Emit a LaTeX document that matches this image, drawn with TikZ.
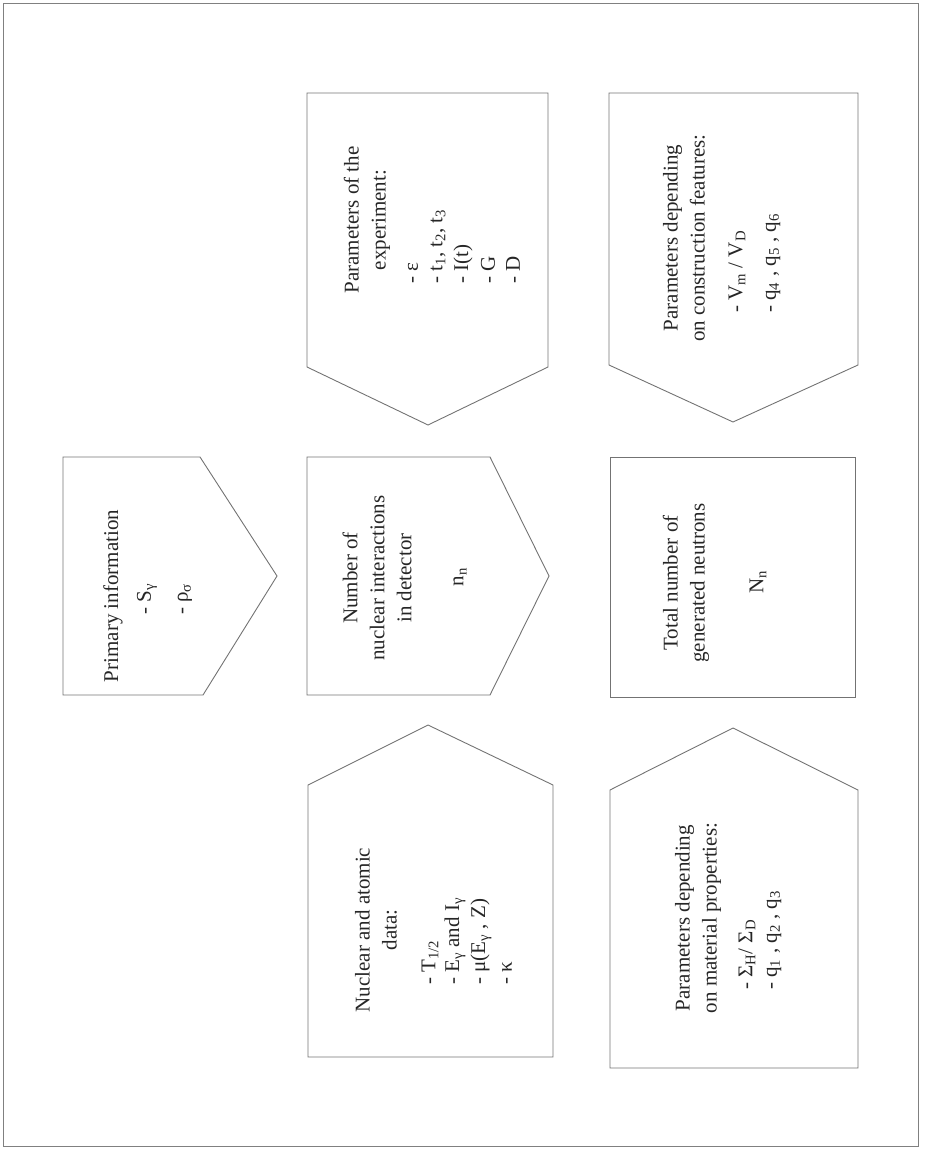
\documentclass[tikz,border=0pt]{standalone}
\usepackage{fontspec}
\setmainfont{Liberation Serif}
\newcommand{\sbs}[1]{\textsubscript{#1}}
\begin{document}
\begin{tikzpicture}[x=1pt,y=-1pt,
  boxline/.style={draw=black!55, line width=0.9pt, line join=miter},
  frameline/.style={draw=black!50, line width=0.8pt},
  txt/.style={rotate=90, font=\fontsize{21}{27}\selectfont, inner sep=0pt, align=center, text=black!85},
  itm/.style={txt, anchor=west, align=left}]
\useasboundingbox (0,0) rectangle (924,1150);
% outer frame
\draw[frameline] (3,3) rectangle (918,1146);
% shapes
\draw[boxline] (63,457) -- (200,457) -- (277,576) -- (203,695) -- (63,695) -- cycle;        % primary
\draw[boxline] (307,457) -- (490,457) -- (549,576) -- (490,695) -- (307,695) -- cycle;      % number
\draw[boxline] (610,457) rectangle (855,697);                                                % total
\draw[boxline] (307,93) -- (548,93) -- (548,367) -- (428,425) -- (307,367) -- cycle;        % experiment
\draw[boxline] (609,93) -- (858,93) -- (858,365) -- (733,422) -- (609,365) -- cycle;        % construction
\draw[boxline] (308,785) -- (428,725) -- (553,785) -- (553,1057) -- (308,1057) -- cycle;    % nuclear
\draw[boxline] (610,790) -- (733,728) -- (858,790) -- (858,1068) -- (610,1068) -- cycle;    % material
% primary
\node[txt] (primT) at (113,596) {Primary information};
\node[itm] (primA) at (147,615) {- S\sbs{γ}};
\node[itm] (primB) at (185,615) {- ρ\sbs{σ}};
% number
\node[txt] (numT) at (377,578) {Number of\\nuclear interactions\\in detector};
\node[txt] (numN) at (460,577) {n\sbs{n}};
% total
\node[txt] (totT) at (686,583) {Total number of\\generated neutrons};
\node[txt] (totN) at (758,582) {N\sbs{n}};
% experiment
\node[txt] (expT) at (367,220) {Parameters of the\\experiment:};
\node[itm] (expA) at (413,284) {- ε};
\node[itm] (expB) at (438,284) {- t\sbs{1}, t\sbs{2}, t\sbs{3}};
\node[itm] (expC) at (463,284) {- I(t)};
\node[itm] (expD) at (488,284) {- G};
\node[itm] (expE) at (513,284) {- D};
% construction
\node[txt] (conT) at (684,238) {Parameters depending\\on construction features:};
\node[itm] (conA) at (737,313) {- V\sbs{m} / V\sbs{D}};
\node[itm] (conB) at (773,313) {- q\sbs{4} , q\sbs{5} , q\sbs{6}};
% nuclear
\node[txt] (nucT) at (376,930) {Nuclear and atomic\\data:};
\node[itm] (nucA) at (430,985) {- T\sbs{1/2}};
\node[itm] (nucB) at (455,985) {- E\sbs{γ} and I\sbs{γ}};
\node[itm] (nucC) at (481,985) {- μ(E\sbs{γ} , Z)};
\node[itm] (nucD) at (507,985) {- κ};
% material
\node[txt] (matT) at (698,918) {Parameters depending\\on material properties:};
\node[itm] (matA) at (747,990) {- Σ\sbs{H}/ Σ\sbs{D}};
\node[itm] (matB) at (774,990) {- q\sbs{1} , q\sbs{2} , q\sbs{3}};
\end{tikzpicture}
\end{document}
